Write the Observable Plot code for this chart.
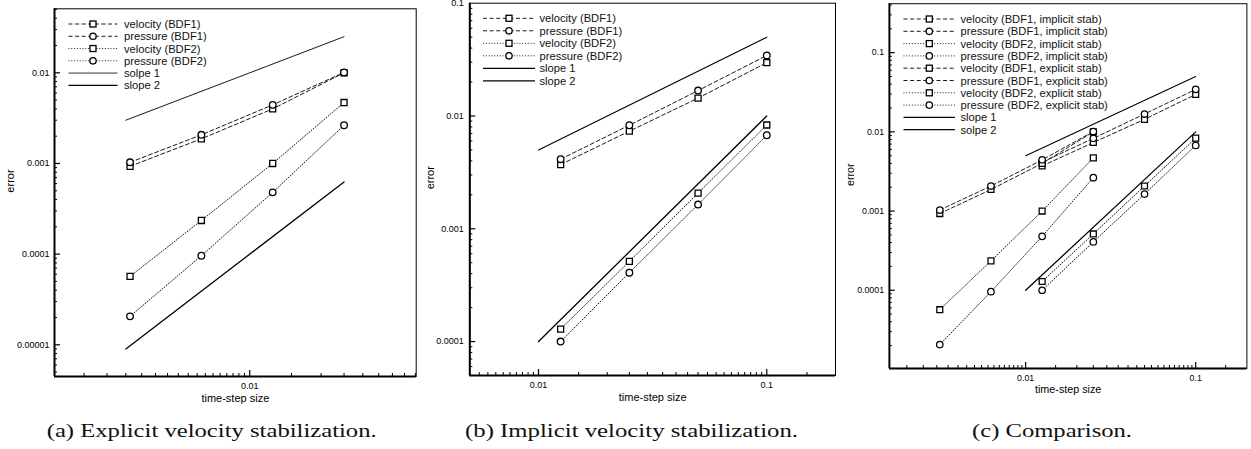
<!DOCTYPE html>
<html><head><meta charset="utf-8">
<script src="https://cdn.jsdelivr.net/npm/d3@7"></script>
<script src="https://cdn.jsdelivr.net/npm/@observablehq/plot@0.6"></script>
<style>
html,body{margin:0;padding:0;background:#fff;}
body{width:1251px;height:449px;overflow:hidden;position:relative;}
.panel{position:absolute;top:0;}
#overlay{position:absolute;left:0;top:0;pointer-events:none;}
</style></head><body>
<script>
// ---------- data ----------
const hExplicit = [0.003125, 0.00625, 0.0125, 0.025];
const velocityExplicitBDF1 = [0.00093, 0.00187, 0.0040, 0.0100];
const pressureExplicitBDF1 = [0.00103, 0.00207, 0.00443, 0.0101];
const velocityExplicitBDF2 = [0.0000568, 0.000235, 0.00100, 0.0047];
const pressureExplicitBDF2 = [0.0000206, 0.000096, 0.00048, 0.00264];

const hImplicit = [0.0125, 0.025, 0.05, 0.1];
const velocityImplicitBDF1 = [0.00371, 0.00733, 0.0144, 0.0297];
const pressureImplicitBDF1 = [0.00414, 0.00828, 0.0168, 0.0344];
const velocityImplicitBDF2 = [0.000129, 0.000514, 0.00207, 0.00832];
const pressureImplicitBDF2 = [0.0001, 0.000408, 0.00164, 0.00675];

const slopeHA = [0.003, 0.025];
const slope1A = [0.003, 0.025];
const slope2A = [0.000009, 0.000625];
const slopeHB = [0.01, 0.1];
const slope1B = [0.005, 0.05];
const slope2B = [0.0001, 0.01];

const xTicksA = [0.01], xTickLabelsA = ["0.01"];
const yTicksA = [0.00001, 0.0001, 0.001, 0.01], yTickLabelsA = ["0.00001", "0.0001", "0.001", "0.01"];
const xTicksB = [0.01, 0.1], xTickLabelsB = ["0.01", "0.1"];
const yTicksB = [0.0001, 0.001, 0.01, 0.1], yTickLabelsB = ["0.0001", "0.001", "0.01", "0.1"];
const xTicksC = [0.01, 0.1], xTickLabelsC = ["0.01", "0.1"];
const yTicksC = [0.0001, 0.001, 0.01, 0.1], yTickLabelsC = ["0.0001", "0.001", "0.01", "0.1"];

const legendA = ["velocity (BDF1)", "pressure (BDF1)", "velocity (BDF2)", "pressure (BDF2)", "solpe 1", "slope 2"];
const legendB = ["velocity (BDF1)", "pressure (BDF1)", "velocity (BDF2)", "pressure (BDF2)", "slope 1", "slope 2"];
const legendC = ["velocity (BDF1, implicit stab)", "pressure (BDF1, implicit stab)", "velocity (BDF2, implicit stab)", "pressure (BDF2, implicit stab)",
  "velocity (BDF1, explicit stab)", "pressure (BDF1, explicit stab)", "velocity (BDF2, explicit stab)", "pressure (BDF2, explicit stab)", "slope 1", "solpe 2"];

const captions = ["(a) Explicit velocity stabilization.", "(b) Implicit velocity stabilization.", "(c) Comparison."];
const xLabel = "time-step size", yLabel = "error";

// ---------- helpers ----------
const DASH = "4,2.6", DOT = "1,1.8";
const rows = (h, e) => h.map((v, i) => ({h: v, e: e[i]}));
function minorTicks(domain, mantissas) {
  const out = [];
  const lo = Math.floor(Math.log10(domain[0])), hi = Math.ceil(Math.log10(domain[1]));
  for (let d = lo; d <= hi; d++) for (const m of mantissas) {
    const v = m * Math.pow(10, d);
    if (v > domain[0] * 1.0001 && v < domain[1] * 0.9999) out.push(v);
  }
  return out;
}
const xMant = d3.range(1.5, 10, 0.5);
const yMant = d3.range(2, 10, 1);

function seriesMarks(h, e, dash, symbol, sw = 0.9) {
  const d = rows(h, e);
  return [
    Plot.line(d, {x: "h", y: "e", stroke: "black", strokeWidth: sw, strokeDasharray: dash}),
    Plot.dot(d, {x: "h", y: "e", symbol, r: symbol === "square" ? 3.4 : 3.3, stroke: "black", strokeWidth: 1.3, fill: "white"})
  ];
}

function panel(cfg) {
  const {left, width, height, mL, mR, mT, mB, xDomain, yDomain, xTicks, xTickLabels, yTicks, yTickLabels, series, slopes} = cfg;
  const iw = width - mL - mR, ih = height - mT - mB;
  const xf = new Map(xTicks.map((v, i) => [v, xTickLabels[i]]));
  const yf = new Map(yTicks.map((v, i) => [v, yTickLabels[i]]));
  const majX = xTicks.filter(v => v > xDomain[0] && v < xDomain[1]);
  const majY = yTicks.filter(v => v > yDomain[0] && v < yDomain[1]);
  const chart = Plot.plot({
    width, height, marginLeft: mL, marginRight: mR, marginTop: mT, marginBottom: mB,
    style: {fontFamily: "'Liberation Sans', Arial, sans-serif", fontSize: "9px", background: "transparent", overflow: "visible"},
    x: {type: "log", domain: xDomain},
    y: {type: "log", domain: yDomain},
    marks: [
      ...slopes.map(s => Plot.line(rows(s.h, s.e), {x: "h", y: "e", stroke: "black", strokeWidth: s.sw})),
      ...series.flatMap(s => seriesMarks(s.h, s.e, s.dash, s.symbol)),
      Plot.tickX(minorTicks(xDomain, xMant).filter(v => !majX.some(m => Math.abs(v - m) / m < 1e-6)), {x: d => d, insetTop: ih - 3, stroke: "black", strokeWidth: 1}),
      Plot.tickX(majX, {x: d => d, insetTop: ih - 6, stroke: "black", strokeWidth: 1.2}),
      Plot.tickY(minorTicks(yDomain, yMant), {y: d => d, insetRight: iw - 3, stroke: "black", strokeWidth: 1}),
      Plot.tickY(majY, {y: d => d, insetRight: iw - 6, stroke: "black", strokeWidth: 1.2}),
      Plot.frame({stroke: "black", strokeWidth: 1}),
      Plot.ruleX([xDomain[0]], {stroke: "black", strokeWidth: 2}),
      Plot.ruleY([yDomain[0]], {stroke: "black", strokeWidth: 2}),
      Plot.axisX(xTicks, {tickSize: 0, tickPadding: 6, tickFormat: d => xf.get(d), label: null}),
      Plot.axisY(yTicks, {tickSize: 0, tickPadding: cfg.yPad, tickFormat: d => yf.get(d), label: null}),
      Plot.text([xLabel], {text: d => d, frameAnchor: "bottom", dy: 22, fontSize: 11, lineAnchor: "middle"}),
      Plot.text([yLabel], {text: d => d, frameAnchor: "left", dx: -(mL - 10), rotate: -90, fontSize: 11, lineAnchor: "middle"})
    ]
  });
  const div = document.createElement("div");
  div.className = "panel";
  div.style.left = left + "px";
  div.appendChild(chart);
  document.body.appendChild(div);
}

panel({
  left: 0, width: 420, height: 410, mL: 54, mR: 4.3, mT: 8.3, mB: 34, yPad: 5,
  xDomain: [0.0015, 0.0504], yDomain: [4.47e-6, 0.0508],
  xTicks: xTicksA, xTickLabels: xTickLabelsA, yTicks: yTicksA, yTickLabels: yTickLabelsA,
  slopes: [{h: slopeHA, e: slope1A, sw: 0.9}, {h: slopeHA, e: slope2A, sw: 1.3}],
  series: [
    {h: hExplicit, e: velocityExplicitBDF1, dash: DASH, symbol: "square"},
    {h: hExplicit, e: pressureExplicitBDF1, dash: DASH, symbol: "circle"},
    {h: hExplicit, e: velocityExplicitBDF2, dash: DOT, symbol: "square"},
    {h: hExplicit, e: pressureExplicitBDF2, dash: DOT, symbol: "circle"}
  ]
});
panel({
  left: 420, width: 420, height: 410, mL: 49.3, mR: 5, mT: 2.7, mB: 35, yPad: 6,
  xDomain: [0.005, 0.2], yDomain: [5e-5, 0.1],
  xTicks: xTicksB, xTickLabels: xTickLabelsB, yTicks: yTicksB, yTickLabels: yTickLabelsB,
  slopes: [{h: slopeHB, e: slope1B, sw: 1.1}, {h: slopeHB, e: slope2B, sw: 1.3}],
  series: [
    {h: hImplicit, e: velocityImplicitBDF1, dash: DASH, symbol: "square"},
    {h: hImplicit, e: pressureImplicitBDF1, dash: DASH, symbol: "circle"},
    {h: hImplicit, e: velocityImplicitBDF2, dash: DOT, symbol: "square"},
    {h: hImplicit, e: pressureImplicitBDF2, dash: DOT, symbol: "circle"}
  ]
});
panel({
  left: 840, width: 420, height: 410, mL: 50, mR: 4.7, mT: 3.3, mB: 34, yPad: 5.5,
  xDomain: [0.00158, 0.2], yDomain: [1.03e-5, 0.415],
  xTicks: xTicksC, xTickLabels: xTickLabelsC, yTicks: yTicksC, yTickLabels: yTickLabelsC,
  slopes: [{h: slopeHB, e: slope1B, sw: 1.1}, {h: slopeHB, e: slope2B, sw: 1.3}],
  series: [
    {h: hImplicit, e: velocityImplicitBDF1, dash: DASH, symbol: "square"},
    {h: hImplicit, e: pressureImplicitBDF1, dash: DASH, symbol: "circle"},
    {h: hImplicit, e: velocityImplicitBDF2, dash: DOT, symbol: "square"},
    {h: hImplicit, e: pressureImplicitBDF2, dash: DOT, symbol: "circle"},
    {h: hExplicit, e: velocityExplicitBDF1, dash: DASH, symbol: "square"},
    {h: hExplicit, e: pressureExplicitBDF1, dash: DASH, symbol: "circle"},
    {h: hExplicit, e: velocityExplicitBDF2, dash: DOT, symbol: "square"},
    {h: hExplicit, e: pressureExplicitBDF2, dash: DOT, symbol: "circle"}
  ]
});

// ---------- legends and captions (overlay) ----------
const svg = d3.select("body").append("svg").attr("id", "overlay").attr("width", 1251).attr("height", 449);
function legend(labels, styles, L) {
  const g = svg.append("g");
  labels.forEach((lab, i) => {
    const y = L.y0 + i * L.step, s = styles[i];
    g.append("line").attr("x1", L.x1).attr("x2", L.x2).attr("y1", y).attr("y2", y)
      .attr("stroke", s.color || "black").attr("stroke-width", s.sw || 0.9).attr("stroke-dasharray", s.dash || null);
    if (s.symbol === "square") g.append("rect").attr("x", L.xm - 3).attr("y", y - 3).attr("width", 6).attr("height", 6)
      .attr("fill", "white").attr("stroke", "black").attr("stroke-width", 1.3);
    if (s.symbol === "circle") g.append("circle").attr("cx", L.xm).attr("cy", y).attr("r", 3.2)
      .attr("fill", "white").attr("stroke", "black").attr("stroke-width", 1.3);
    g.append("text").attr("x", L.xt).attr("y", y).attr("dy", "0.36em").text(lab)
      .attr("font-family", "'Liberation Sans', Arial, sans-serif").attr("font-size", 11.2).attr("fill", "#111");
  });
}
const four = [{dash: DASH, symbol: "square"}, {dash: DASH, symbol: "circle"}, {dash: DOT, symbol: "square"}, {dash: DOT, symbol: "circle"}];
legend(legendA, [...four, {sw: 1.6, color: "#888"}, {sw: 1.3}], {x1: 68.5, x2: 117.5, xm: 93, xt: 124, y0: 24, step: 12.27});
legend(legendB, [...four, {sw: 1.2}, {sw: 1.3}], {x1: 483, x2: 535, xm: 509, xt: 539.5, y0: 18.3, step: 12.5});
legend(legendC, [...four, ...four, {sw: 1.2}, {sw: 1.3}], {x1: 903.5, x2: 955, xm: 929.3, xt: 960.5, y0: 19, step: 12.3});

const capPos = [{x: 46.7, w: 330}, {x: 465, w: 333}, {x: 972, w: 160}];
captions.forEach((c, i) => {
  svg.append("text").attr("x", capPos[i].x).attr("y", 437).text(c)
    .attr("font-family", "'Liberation Serif', 'Times New Roman', serif").attr("font-size", 18)
    .attr("textLength", capPos[i].w).attr("lengthAdjust", "spacingAndGlyphs").attr("fill", "#111");
});
</script>
</body></html>
